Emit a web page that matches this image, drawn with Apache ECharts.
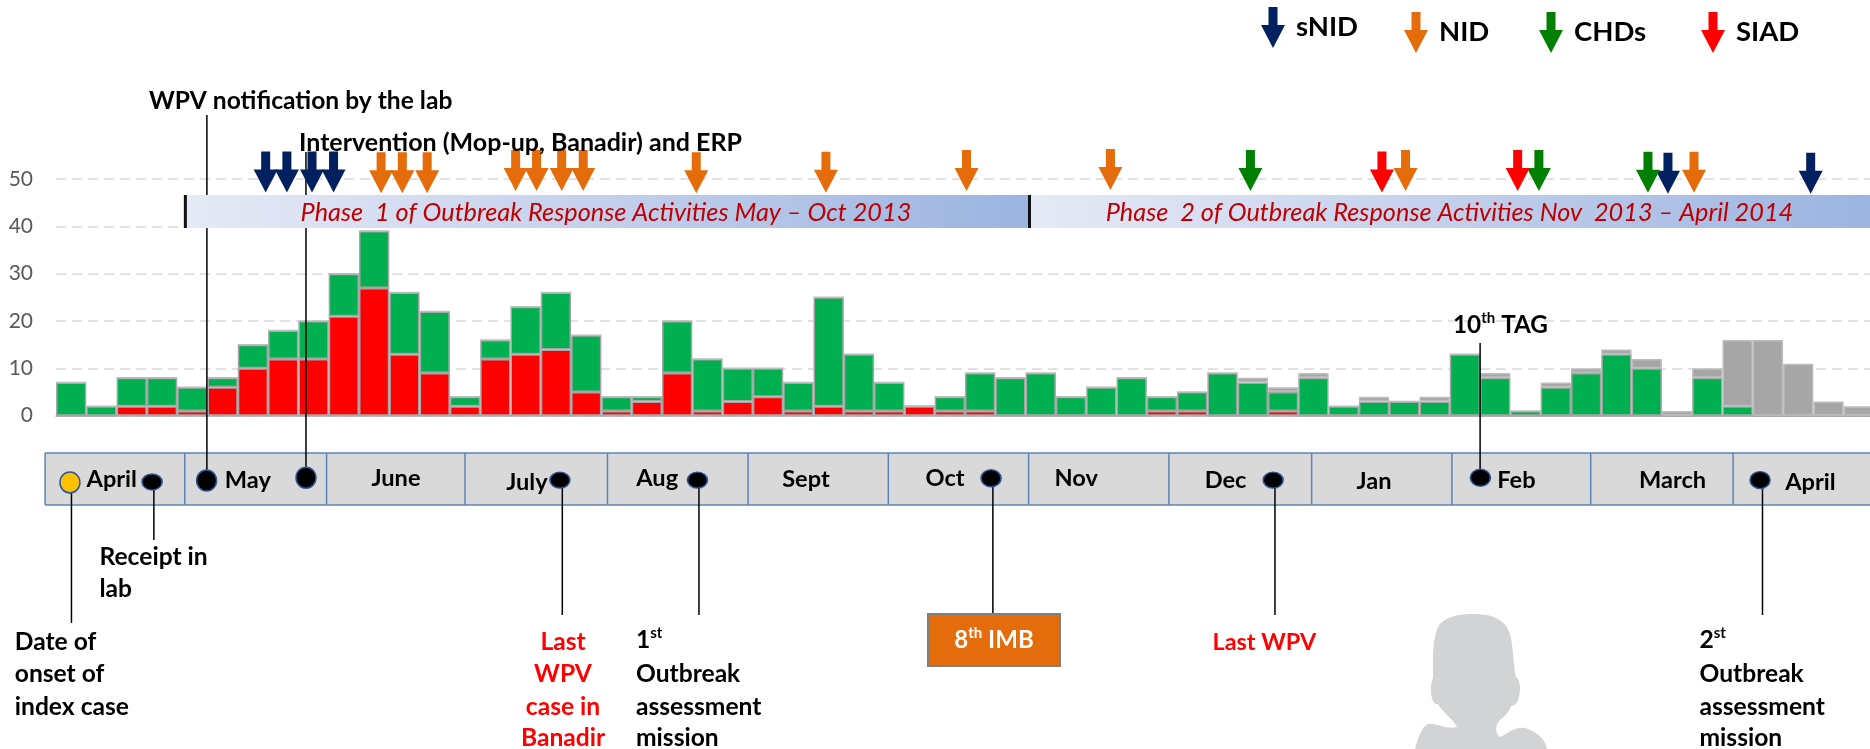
<!DOCTYPE html>
<html><head><meta charset="utf-8">
<style>html,body{margin:0;padding:0;background:#fff}#c{width:1870px;height:749px}</style>
<script src="https://cdn.jsdelivr.net/npm/echarts@6/dist/echarts.min.js"></script>
</head><body><div id="c"></div>
<script>
// ---- data ----
const weeks = ['1','2','3','4','5','6','7','8','9','10','11','12','13','14','15','16','17','18','19','20','21','22','23','24','25','26','27','28','29','30','31','32','33','34','35','36','37','38','39','40','41','42','43','44','45','46','47','48','49','50','51','52','53','54','55','56','57','58','59','60'];
const redCases   = [0,0,2,2,1,6,10,12,12,21,27,13,9,2,12,13,14,5,1,3,9,1,3,4,1,2,1,1,2,1,1,0,0,0,0,0,1,1,0,0,1,0,0,0,0,0,0,0,0,0,0,0,0,0,0,0,0,0,0,0];
const greenCases = [7,2,6,6,5,2,5,6,8,9,12,13,13,2,4,10,12,12,3,1,11,11,7,6,6,23,12,6,0,3,8,8,9,4,6,8,3,4,9,7,4,8,2,3,3,3,13,8,1,6,9,13,10,0,8,2,0,0,0,0];
const greyCases  = [0,0,0,0,0,0,0,0,0,0,0,0,0,0,0,0,0,0,0,0,0,0,0,0,0,0,0,0,0,0,0,0,0,0,0,0,0,0,0,1,1,1,0,1,0,1,0,1,0,1,1,1,2,1,2,14,16,11,3,2];
const yTicks = [0,10,20,30,40,50];
// campaign arrows: [week position, level on the case axis]
const sNID = [[6.92,51.5],[7.62,51.5],[8.45,51.5],[9.16,51.5],[53.2,51.2],[57.91,51.2]];
const NID  = [[10.73,51.3],[11.43,51.3],[12.25,51.3],[15.17,51.8],[15.86,51.8],[16.69,51.8],[17.4,51.8],[21.13,51.3],[25.41,51.4],[30.05,51.8],[34.8,52.0],[44.54,51.8],[54.06,51.4]];
const CHDs = [[39.42,51.8],[48.94,51.8],[52.54,51.4]];
const SIAD = [[43.76,51.5],[48.24,51.8]];
// months strip
const monthNames = ['April','May','June','July','Aug','Sept','Oct','Nov','Dec','Jan','Feb','March','April'];
const monthEdges = [-0.36,4.25,8.93,13.5,18.2,22.84,27.47,32.1,36.73,41.44,46.07,50.65,55.35,59.9];
const monthLabelWeek = [1.84,6.33,11.22,15.54,19.84,24.75,29.34,33.67,38.6,43.5,48.2,53.35,57.9];
const monthLabelY = [479,480,478,482,478,479,478,478,480,481,480,480,482];
// phases
const phaseStart = [4.22,32.08];
const phaseEnd = [32.08,59.9];
const phaseLabels = ['Phase  1 of Outbreak Response Activities May – Oct 2013','Phase  2 of Outbreak Response Activities Nov  2013 – April 2014'];
// events on the strip
const eventNames = ['Date of onset of index case','Receipt in lab','WPV notification by the lab','Intervention','Last WPV case in Banadir','1st Outbreak assessment mission','8th IMB','Last WPV','10th TAG','2nd Outbreak assessment mission'];
const eventDotWeek  = [0.46,3.17,4.97,8.25,16.63,21.17,30.86,40.17,47.01,56.24];
const eventLineWeek = [0.51,3.23,4.98,8.25,16.71,21.22,30.92,40.23,47.0,56.32];
const eventDotLevel = [-14.1,-14,-13.7,-13.1,-13.6,-13.6,-13.2,-13.6,-13.1,-13.6];
const eventLineTop  = [482,482,115,152,480,480,478,480,343,480];
const eventLineEnd  = [623,540,480,478,615,615,613,615,478,615];
const eventDotSize  = [[20,21],[20,16],[20,21],[20,21],[20,16],[20,16],[20,17],[20,16],[20,17],[20,17]];

const FONT = 'Lato';
const ARROW = 'path://M7.5 0H16.5V18H24L12 41L0 18H7.5Z';
const NAVY='#002060', ORANGE='#e46c0a', GREEN='#008000', RED='#ff0000';

echarts.graphic.registerShape('personShape', echarts.graphic.extendPath('M1472 614C1498 614 1510 622 1512 645C1514 660 1514 668 1516 677C1521 680 1521 692 1518 700C1516 706 1513 705 1511 706C1508 716 1500 718 1497 724C1495 730 1497 735 1500 737C1508 733 1516 726 1525 728C1535 731 1545 738 1547 749L1415 749C1418 738 1422 726 1428 724C1436 722 1446 730 1457 727C1454 720 1444 714 1438 704C1433 706 1430 695 1431 685C1432 680 1433 679 1433 677C1433 660 1432 640 1438 627C1443 618 1456 614 1472 614Z',{}));

function arrowSeries(name,data,color){
  return {name,type:'scatter',xAxisIndex:1,yAxisIndex:0,data,symbol:ARROW,symbolSize:[24,41],clip:false,z:6,
    itemStyle:{color,opacity:1},emphasis:{disabled:true},silent:true};
}
function legendAt(name,left,top){
  return {data:[{name,icon:ARROW,itemStyle:{opacity:1}}],left,top,padding:0,itemWidth:24,itemHeight:41,selectedMode:false,
    textStyle:{fontFamily:FONT,fontWeight:'bold',fontSize:27.5,color:'#000',padding:[0,0,0,6]}};
}
function barSeries(name,data,color,border){
  return {name,type:'bar',stack:'cases',data,barWidth:'100%',xAxisIndex:0,yAxisIndex:0,z:2,silent:true,
    itemStyle:{color,borderColor:border,borderWidth:1.5}};
}
function txt(x,y,text,o){
  o=o||{};
  const size=o.size||24.6, fill=o.fill||'#000';
  return {type:'text',z:20,silent:true,style:{x,y,text,fontFamily:FONT,fontWeight:'bold',fontSize:size,fill,textVerticalAlign:'middle',textAlign:o.align||'left',
    rich:{b:{fontFamily:FONT,fontWeight:'bold',fontSize:size,fill,lineHeight:28},s:{fontFamily:FONT,fontWeight:'bold',fontSize:15,fill,verticalAlign:'top',lineHeight:28,padding:[0,0,6,0]}}}};
}
const graphics = [
  txt(149,101,'WPV notification by the lab'),
  txt(299,143,'Intervention (Mop-up, Banadir) and ERP',{size:25}),
  txt(1453,325,'{b|10}{s|th}{b| TAG}',{size:24.3}),
  txt(99.5,557,'Receipt in'),txt(99.5,589,'lab'),
  txt(14.8,642,'Date of'),txt(14.8,674,'onset of'),txt(14.8,707,'index case'),
  txt(563,642,'Last',{fill:'#ff0000',align:'center'}),txt(563,674,'WPV',{fill:'#ff0000',align:'center'}),
  txt(563,707,'case in',{fill:'#ff0000',align:'center'}),txt(563,738,'Banadir',{fill:'#ff0000',align:'center'}),
  txt(636,640,'{b|1}{s|st}'),txt(636,674,'Outbreak'),txt(636,707,'assessment'),txt(636,738,'mission'),
  txt(1212.5,642,'Last WPV',{fill:'#ff0000',size:23.4}),
  txt(1699.5,640,'{b|2}{s|st}'),txt(1699.5,674,'Outbreak'),txt(1699.5,707,'assessment'),txt(1699.5,738,'mission'),
  {type:'rect',z:19,silent:true,shape:{x:928,y:614,width:132,height:52},style:{fill:'#e46c0a',stroke:'#7f7f7f',lineWidth:2}},
  txt(994,640,'{b|8}{s|th}{b| IMB}',{fill:'#ffffff',align:'center',size:24}),
  {type:'personShape',z:1,silent:true,style:{fill:'#d1d3d4'}}
];

const option = {
  animation:false,
  backgroundColor:'#fff',
  grid:{left:56,top:179,width:1818,height:236.7,containLabel:false,outerBoundsMode:'none'},
  legend:[legendAt('sNID',1261,7),legendAt('NID',1404,12),legendAt('CHDs',1539,12),legendAt('SIAD',1701,12)],
  xAxis:[
    {type:'category',data:weeks,axisTick:{show:false},axisLabel:{show:false},axisLine:{show:true,lineStyle:{color:'#a6a6a6',width:1.5}},splitLine:{show:false}},
    {type:'value',min:0,max:60,show:false,splitLine:{show:false}}
  ],
  yAxis:[{type:'value',min:yTicks[0],max:yTicks[yTicks.length-1],interval:10,axisLine:{show:false},axisTick:{show:false},
    axisLabel:{margin:23,fontFamily:FONT,fontSize:21,color:'#595959'},
    splitLine:{show:true,lineStyle:{color:'#d9d9d9',width:1.5,type:[10,6]}}}],
  graphic:graphics,
  series:[
    barSeries('Cases red',redCases,'#ff0000','#a6a6a6'),
    barSeries('Cases green',greenCases,'#00b050','#a6a6a6'),
    barSeries('Cases grey',greyCases,'#a6a6a6','#bdbdbd'),
    { // months strip
      type:'custom',name:'Months',xAxisIndex:1,yAxisIndex:0,z:3,silent:true,clip:false,
      data:monthNames.map((m,i)=>[monthEdges[i],monthEdges[i+1]]),
      renderItem(params,api){
        const i=params.dataIndex, x0=api.coord([api.value(0),0])[0], x1=api.coord([api.value(1),0])[0];
        const lx=api.coord([monthLabelWeek[i],0])[0];
        return {type:'group',children:[
          {type:'rect',shape:{x:x0,y:453,width:x1-x0,height:52},style:{fill:'#d9d9d9',stroke:null}},
          {type:'line',shape:{x1:x0,y1:453,x2:x1,y2:453},style:{stroke:'#5b84b9',lineWidth:1.5}},
          {type:'line',shape:{x1:x0,y1:505,x2:x1,y2:505},style:{stroke:'#5b84b9',lineWidth:1.5}},
          {type:'line',shape:{x1:x0,y1:453,x2:x0,y2:505},style:{stroke:'#5b84b9',lineWidth:1.5}},
          {type:'text',style:{x:lx,y:monthLabelY[i],text:monthNames[i],fontFamily:FONT,fontWeight:'bold',fontSize:23.6,fill:'#000',textAlign:'center',textVerticalAlign:'middle'}}
        ]};
      }
    },
    { // event lines
      type:'custom',name:'Event lines',xAxisIndex:1,yAxisIndex:0,z:4,silent:true,clip:false,
      data:eventLineWeek.map(w=>[w]),
      renderItem(params,api){
        const i=params.dataIndex,x=api.coord([api.value(0),0])[0];
        return {type:'line',shape:{x1:x,y1:eventLineTop[i],x2:x,y2:eventLineEnd[i]},style:{stroke:'#000',lineWidth:1.5}};
      }
    },
    { // phase bands
      type:'custom',name:'Phases',xAxisIndex:1,yAxisIndex:0,z:5,silent:true,clip:false,
      data:phaseStart.map((s,i)=>[s,phaseEnd[i]]),
      renderItem(params,api){
        const i=params.dataIndex,x0=api.coord([api.value(0),0])[0],x1=api.coord([api.value(1),0])[0];
        return {type:'group',children:[
          {type:'rect',shape:{x:x0,y:195,width:x1-x0,height:33},style:{fill:new echarts.graphic.LinearGradient(0,0,1,0,[{offset:0,color:'#e6eaf6'},{offset:0.5,color:'#c3d0ec'},{offset:1,color:'#9bb4e0'}])}},
          {type:'rect',shape:{x:x0,y:195,width:3,height:33},style:{fill:'#111'}},
          {type:'text',style:{x:(x0+x1)/2,y:212.5,text:phaseLabels[i],fontFamily:FONT,fontStyle:'italic',fontSize:25.3,fill:'#c00000',textAlign:'center',textVerticalAlign:'middle'}}
        ]};
      }
    },
    { // event dots
      type:'scatter',name:'Events',xAxisIndex:1,yAxisIndex:0,z:7,silent:true,clip:false,
      data:eventDotWeek.map((w,i)=>({name:eventNames[i],value:[w,eventDotLevel[i]],symbolSize:eventDotSize[i],
        itemStyle:{color:i===0?'#ffc000':'#000',opacity:1,borderColor:'#2f5597',borderWidth:1.5}})),
      symbol:'circle'
    },
    arrowSeries('sNID',sNID,NAVY),
    arrowSeries('NID',NID,ORANGE),
    arrowSeries('CHDs',CHDs,GREEN),
    arrowSeries('SIAD',SIAD,RED)
  ]
};
const chart = echarts.init(document.getElementById('c'));
chart.setOption(option);
</script></body></html>
